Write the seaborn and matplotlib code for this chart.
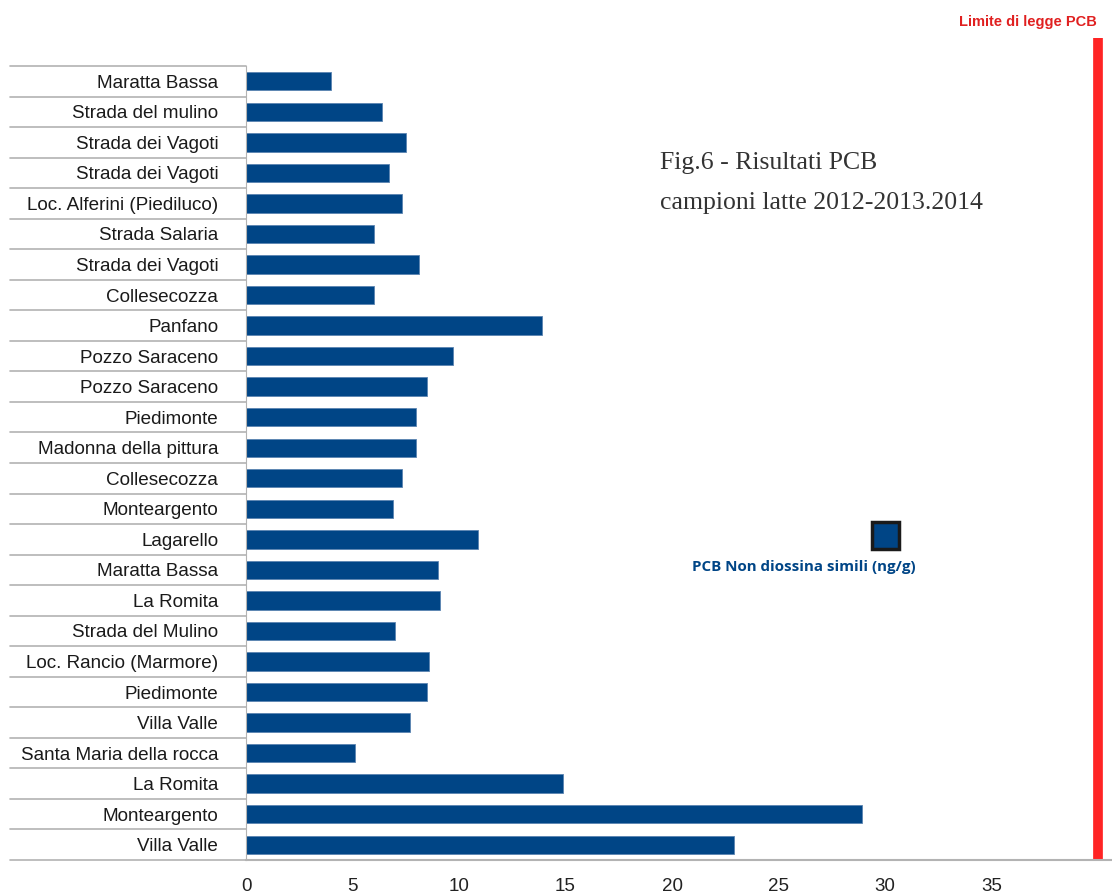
import matplotlib
matplotlib.use("Agg")
import matplotlib.pyplot as plt
import matplotlib.transforms as mtransforms
from matplotlib.patches import Rectangle
import pandas as pd
import seaborn as sns

sites = [
    "Maratta Bassa", "Strada del mulino", "Strada dei Vagoti", "Strada dei Vagoti",
    "Loc. Alferini (Piediluco)", "Strada Salaria", "Strada dei Vagoti", "Collesecozza",
    "Panfano", "Pozzo Saraceno", "Pozzo Saraceno", "Piedimonte",
    "Madonna della pittura", "Collesecozza", "Monteargento", "Lagarello",
    "Maratta Bassa", "La Romita", "Strada del Mulino", "Loc. Rancio (Marmore)",
    "Piedimonte", "Villa Valle", "Santa Maria della rocca", "La Romita",
    "Monteargento", "Villa Valle",
]
pcb_values = [
    4.0, 6.4, 7.5, 6.7, 7.3, 6.0, 8.1, 6.0,
    13.9, 9.7, 8.5, 8.0, 8.0, 7.3, 6.9, 10.9,
    9.0, 9.1, 7.0, 8.6, 8.5, 7.7, 5.1, 14.9,
    28.9, 22.9,
]
limit_pcb = 40
x_ticks = [0, 5, 10, 15, 20, 25, 30, 35]

blue = "#004586"
grey = "#b3b3b3"

df = pd.DataFrame({"key": [str(i) for i in range(len(sites))], "pcb": pcb_values})

sns.set_style("white")
plt.rcParams["font.family"] = ["Liberation Sans", "DejaVu Sans"]

fig = plt.figure(figsize=(11.12, 8.94), dpi=100)
ax = fig.add_axes([246 / 1112, 1 - 860 / 894, 866 / 1112, 794 / 894])

sns.barplot(data=df, x="pcb", y="key", orient="h", color=blue, saturation=1,
            width=0.6, ax=ax, edgecolor="#5b84b1", linewidth=0.6)

ax.set_xlim(0, 40.65)
ax.set_ylim(len(sites) - 0.5, -0.5)
ax.set_xticks(x_ticks)
ax.set_xticklabels([str(t) for t in x_ticks], fontsize=13.5, color="#222222")
ax.set_yticks(range(len(sites)))
ax.set_yticklabels(sites, fontsize=13.6, color="#1a1a1a")
ax.tick_params(axis="y", length=0, pad=20)
ax.tick_params(axis="x", length=8, width=1, color=grey, pad=5, direction="out")
ax.set_xlabel("")
ax.set_ylabel("")

for side in ["top", "right"]:
    ax.spines[side].set_visible(False)
ax.spines["left"].set_color(grey)
ax.spines["bottom"].set_color(grey)
ax.spines["bottom"].set_linewidth(1.5)

# row separators in the label area
trans = mtransforms.blended_transform_factory(ax.transAxes, ax.transData)
left_x = -236 / 866
for i in range(len(sites) + 1):
    ax.plot([left_x, 0], [i - 0.5, i - 0.5], transform=trans, color=grey,
            lw=1.2, clip_on=False)

# legal limit line
limit_line = ax.axvline(limit_pcb, ymin=0, ymax=(860 - 38) / 794, color="#ff2424",
                        lw=7, clip_on=False)
limit_line.set_solid_capstyle("butt")
fig.text(1097 / 1112, 1 - 22 / 894, "Limite di legge PCB", color="#e02020",
         fontsize=10.5, fontweight="bold", ha="right", va="center")

# figure title
fig.text(660 / 1112, 1 - 163 / 894, "Fig.6 - Risultati PCB", fontsize=18.5,
         family=["Liberation Serif", "DejaVu Serif"], color="#333333", va="center")
fig.text(660 / 1112, 1 - 203 / 894, "campioni latte 2012-2013.2014", fontsize=18.5,
         family=["Liberation Serif", "DejaVu Serif"], color="#333333", va="center")

# legend
fig.patches.append(Rectangle((872 / 1112, 1 - 549 / 894), 27 / 1112, 27 / 894,
                             transform=fig.transFigure, facecolor=blue,
                             edgecolor="#1a1a1a", lw=2.5))
fig.text(804 / 1112, 1 - 567 / 894, "PCB Non diossina simili (ng/g)", color=blue,
         fontsize=10.9, fontweight="bold", ha="center", va="center",
         family=["Open Sans", "DejaVu Sans"])

fig.savefig("out.png", dpi=100)
